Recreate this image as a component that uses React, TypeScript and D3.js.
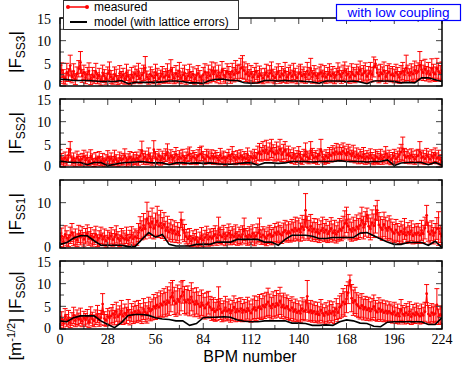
import React from 'react';
import * as d3 from 'd3';

// BPM 0..224, one measured value per BPM
const measSS3 = [
  2.8,3.5,2.1,1.6,3.0,2.4,4.5,2.0,3.2,1.5,2.7,3.8,5.2,2.2,3.0,
  1.8,2.6,3.3,1.4,2.5,2.0,3.1,1.7,2.4,1.2,2.9,2.2,1.6,2.7,3.4,
  2.0,1.5,2.6,2.2,1.3,2.8,1.9,2.4,1.6,3.0,2.1,1.4,2.5,1.8,2.7,
  2.2,3.2,1.7,2.4,2.9,4.0,2.0,1.5,2.6,2.2,1.8,3.0,2.4,1.6,2.1,
  2.7,1.9,2.3,3.1,2.0,3.6,2.5,1.7,2.8,2.1,3.3,1.8,2.4,2.9,1.6,
  2.2,3.0,1.9,2.6,1.5,2.3,2.8,2.0,1.4,2.5,3.1,1.8,2.9,2.2,3.4,
  2.6,3.3,2.1,2.9,1.8,3.5,2.4,2.0,3.1,2.7,1.9,3.2,2.5,3.6,2.8,
  3.0,3.9,4.2,3.4,2.6,3.1,2.2,2.8,1.9,2.5,3.2,2.0,2.7,2.3,1.7,
  2.4,3.0,2.1,2.8,3.4,2.2,1.8,2.6,3.1,2.0,2.7,2.3,3.3,1.9,2.5,
  2.9,2.1,3.2,2.4,1.8,2.7,3.0,2.2,2.6,1.9,3.3,2.5,3.8,2.0,2.8,
  2.3,1.7,2.6,3.0,2.1,2.8,1.9,2.5,3.1,2.2,2.7,1.8,2.4,3.2,2.6,
  2.0,2.9,3.4,2.3,2.7,1.9,3.1,2.5,2.2,3.0,2.6,3.5,2.4,2.8,3.2,
  2.1,2.7,3.3,2.5,4.2,4.9,2.9,2.2,3.0,2.6,3.4,2.0,2.8,3.1,2.4,
  2.7,2.2,3.0,2.5,1.9,2.8,3.3,2.4,4.0,2.9,2.3,3.1,2.6,3.5,2.8,
  3.2,4.6,3.6,2.9,3.8,2.7,3.3,2.5,3.9,3.0,2.6,3.9,3.2,2.8,3.4,
];
const errSS3 = [
  1.8,1.6,1.5,1.2,2.0,1.4,2.3,1.3,1.7,1.2,1.5,1.8,2.4,1.4,1.6,
  1.3,1.5,1.8,1.1,1.6,1.4,1.9,1.2,1.5,1.0,1.7,1.4,1.2,1.5,1.9,
  1.4,1.1,1.6,1.5,1.0,1.7,1.3,1.5,1.2,1.8,1.4,1.1,1.6,1.3,1.7,
  1.5,1.8,1.2,1.5,1.7,2.5,1.3,1.1,1.6,1.4,1.3,1.8,1.5,1.2,1.4,
  1.6,1.3,1.5,1.8,1.4,2.2,1.6,1.2,1.7,1.4,1.9,1.3,1.5,1.7,1.2,
  1.4,1.8,1.3,1.6,1.1,1.5,1.7,1.4,1.0,1.6,1.8,1.3,1.7,1.5,1.9,
  1.6,1.8,1.4,1.7,1.3,1.9,1.5,1.4,1.8,1.6,1.3,1.8,1.6,2.0,1.7,
  1.8,2.2,2.5,1.9,1.6,1.8,1.4,1.7,1.3,1.6,1.8,1.4,1.7,1.5,1.2,
  1.5,1.8,1.4,1.7,1.9,1.5,1.3,1.6,1.8,1.4,1.6,1.5,1.9,1.3,1.6,
  1.7,1.4,1.8,1.5,1.3,1.7,1.8,1.5,1.6,1.3,1.9,1.6,2.3,1.4,1.7,
  1.5,1.2,1.6,1.8,1.4,1.7,1.3,1.6,1.8,1.5,1.6,1.3,1.5,1.9,1.6,
  1.4,1.7,1.9,1.5,1.7,1.3,1.8,1.6,1.5,1.8,1.6,2.0,1.5,1.7,1.9,
  1.4,1.6,1.9,1.6,2.2,0.9,1.7,1.5,1.8,1.6,1.9,1.4,1.7,1.8,1.5,
  1.6,1.5,1.8,1.6,1.3,1.7,1.9,1.5,2.8,1.7,1.5,1.8,1.6,2.0,1.7,
  1.9,3.0,2.0,1.7,2.1,1.6,1.9,1.6,2.1,1.8,1.6,2.2,1.9,1.7,1.9,
];
const measSS2 = [
  2.4,1.8,1.2,2.0,1.5,2.6,3.8,1.4,1.9,1.1,2.2,1.6,1.3,1.8,2.3,
  1.5,2.0,1.2,2.4,1.7,1.0,1.9,1.4,2.1,1.3,1.8,1.1,1.6,2.2,1.4,
  1.9,1.3,2.3,1.6,1.1,2.0,1.5,1.8,2.5,1.2,1.7,2.1,1.4,1.9,1.6,
  2.0,1.5,2.4,3.6,1.8,2.2,1.6,2.7,1.9,1.4,3.8,2.1,1.7,2.5,1.5,
  2.2,1.8,2.6,3.3,1.9,2.4,1.6,2.1,2.8,1.7,2.3,1.9,2.5,1.5,2.0,
  2.6,2.9,1.8,2.3,2.0,1.6,2.4,2.8,3.0,2.1,1.7,2.5,2.2,1.9,2.4,
  1.8,2.3,2.0,1.5,2.6,1.9,2.2,1.4,2.0,2.5,1.7,2.9,2.1,1.6,2.3,
  1.9,2.4,1.6,2.1,1.8,2.7,1.5,2.2,1.9,2.5,2.0,3.0,3.4,2.8,3.6,
  3.1,3.8,2.9,3.5,4.1,3.2,2.8,3.6,3.0,3.9,2.7,3.3,3.7,2.6,3.0,
  2.4,2.0,2.7,1.8,2.3,2.9,2.1,1.7,2.5,3.4,2.2,1.9,3.6,2.6,2.0,
  2.3,1.8,2.6,3.8,2.2,1.7,2.4,2.0,2.8,2.5,3.1,2.7,3.4,2.9,3.2,
  2.8,3.5,3.0,2.6,3.3,2.9,2.4,3.1,2.2,2.7,1.9,2.5,2.1,2.8,1.8,
  2.3,1.9,2.6,2.0,1.6,2.4,2.1,1.8,2.5,1.7,2.2,2.9,1.9,2.3,1.6,
  2.0,2.5,1.8,2.2,2.7,3.3,4.0,2.6,2.1,2.4,1.9,2.6,2.2,1.7,2.3,
  2.5,3.4,2.0,2.3,1.8,2.6,2.2,1.7,2.4,2.0,2.7,1.9,2.3,1.6,1.2,
];
const errSS2 = [
  1.4,1.2,1.0,1.3,1.1,1.5,1.8,1.0,1.2,0.9,1.3,1.1,1.0,1.2,1.4,
  1.1,1.3,0.9,1.4,1.2,0.9,1.3,1.0,1.3,1.0,1.2,0.9,1.1,1.4,1.0,
  1.2,1.0,1.4,1.1,0.9,1.3,1.1,1.2,1.5,1.0,1.2,1.3,1.0,1.3,1.1,
  1.3,1.1,1.4,2.1,1.2,1.3,1.1,1.5,1.2,1.0,2.0,1.3,1.2,1.4,1.1,
  1.3,1.2,1.4,1.8,1.2,1.4,1.1,1.3,1.5,1.1,1.3,1.2,1.4,1.0,1.3,
  1.4,1.5,1.2,1.3,1.2,1.1,1.4,1.5,1.6,1.3,1.1,1.4,1.3,1.2,1.4,
  1.2,1.3,1.2,1.0,1.5,1.2,1.3,1.0,1.2,1.4,1.1,1.6,1.3,1.1,1.3,
  1.2,1.4,1.1,1.3,1.2,1.5,1.0,1.3,1.2,1.4,1.2,1.6,1.8,1.5,2.0,
  1.6,2.1,1.5,1.8,2.0,1.7,1.5,1.9,1.6,2.2,1.5,1.7,1.9,1.4,1.6,
  1.4,1.2,1.5,1.2,1.3,1.6,1.3,1.1,1.4,1.9,1.3,1.2,2.0,1.5,1.2,
  1.3,1.2,1.4,2.3,1.3,1.1,1.4,1.2,1.5,1.4,1.6,1.5,1.8,1.5,1.7,
  1.5,1.8,1.6,1.4,1.7,1.5,1.3,1.7,1.3,1.5,1.2,1.4,1.3,1.5,1.2,
  1.3,1.2,1.4,1.2,1.1,1.4,1.3,1.2,1.4,1.1,1.3,1.6,1.2,1.4,1.1,
  1.2,1.4,1.2,1.3,1.5,1.7,2.6,1.5,1.3,1.4,1.2,1.4,1.3,1.1,1.4,
  1.4,2.2,1.3,1.4,1.2,1.5,1.3,1.1,1.4,1.2,1.5,1.2,1.4,1.1,0.9,
];
const measSS1 = [
  1.8,2.6,1.4,3.0,2.2,1.6,2.8,3.4,2.0,2.5,1.7,3.1,2.3,2.9,1.9,
  2.6,3.2,2.1,2.7,1.8,2.4,3.0,1.6,2.2,2.8,1.9,2.5,1.5,2.3,2.0,
  2.7,1.8,2.4,3.0,2.1,1.6,2.6,2.2,1.9,2.8,1.7,2.3,2.9,2.0,2.5,
  2.2,3.4,4.5,3.9,5.0,4.2,6.5,5.4,4.6,5.8,4.3,5.1,6.0,4.8,5.5,
  4.4,5.2,3.8,4.6,3.5,4.1,3.2,3.9,3.0,3.6,2.8,6.2,4.0,3.3,2.5,
  2.0,2.6,1.5,2.2,1.8,2.4,1.3,2.0,2.7,1.7,2.3,2.9,1.9,2.5,2.1,
  2.6,3.0,2.2,4.2,2.8,2.4,3.1,2.0,2.7,3.3,2.3,2.9,2.5,3.2,2.1,
  2.8,2.4,3.0,4.1,2.6,2.2,2.9,2.5,3.2,2.0,2.7,3.3,4.0,2.4,2.9,
  2.5,2.1,2.8,3.1,2.4,2.7,3.4,2.9,3.6,3.1,2.8,3.5,3.9,3.2,3.7,
  3.3,4.0,3.6,4.4,3.8,4.2,3.5,4.7,4.0,8.3,4.5,3.9,4.8,3.6,4.2,
  3.5,4.1,3.2,3.8,4.4,3.4,4.0,3.1,3.7,4.3,3.3,3.9,3.0,3.6,4.2,
  3.8,4.5,5.4,6.2,4.8,4.1,3.6,4.4,3.9,4.7,4.2,5.0,6.1,4.5,5.3,
  7.3,4.8,4.2,5.6,4.9,6.3,8.3,5.1,4.5,4.0,5.2,4.4,3.8,4.6,4.1,
  3.6,3.2,4.0,3.4,2.9,3.7,3.1,4.2,2.8,3.5,3.0,3.8,2.7,3.3,2.9,
  3.4,2.8,3.9,3.1,4.4,7.2,3.6,3.0,3.8,2.7,3.4,4.3,4.3,3.1,2.6,
];
const errSS1 = [
  1.5,1.8,1.2,1.9,1.6,1.3,1.8,2.0,1.5,1.7,1.4,1.9,1.6,1.8,1.5,
  1.7,1.9,1.5,1.8,1.4,1.6,1.8,1.3,1.6,1.8,1.4,1.7,1.3,1.6,1.5,
  1.8,1.4,1.6,1.9,1.5,1.3,1.7,1.6,1.4,1.8,1.3,1.6,1.8,1.5,1.7,
  1.6,2.0,2.4,2.1,2.6,2.2,3.6,2.7,2.4,3.0,2.3,2.6,3.2,2.5,2.8,
  2.3,2.6,2.1,2.4,2.0,2.2,1.9,2.1,1.8,2.0,1.7,1.7,2.2,1.9,1.6,
  1.5,1.7,1.2,1.6,1.4,1.7,1.1,1.5,1.8,1.4,1.6,1.9,1.5,1.7,1.6,
  1.7,1.9,1.6,2.6,1.8,1.7,1.9,1.5,1.8,2.0,1.6,1.8,1.7,1.9,1.5,
  1.8,1.7,1.9,2.5,1.7,1.6,1.8,1.7,1.9,1.5,1.8,2.0,2.6,1.6,1.8,
  1.7,1.6,1.8,1.9,1.7,1.8,2.0,1.8,2.1,1.9,1.8,2.0,2.2,1.9,2.1,
  2.0,2.3,2.1,2.4,2.2,2.4,2.0,2.5,2.3,3.7,2.5,2.2,2.6,2.1,2.3,
  2.1,2.3,2.0,2.2,2.4,2.0,2.3,1.9,2.2,2.4,2.0,2.2,1.9,2.1,2.3,
  2.2,2.5,2.8,2.8,2.6,2.3,2.1,2.4,2.2,2.6,2.3,2.7,2.9,2.5,2.7,
  1.5,2.5,2.4,2.8,2.6,3.0,2.2,2.7,2.4,2.3,2.7,2.4,2.2,2.5,2.3,
  2.1,2.0,2.3,2.0,1.9,2.2,2.0,2.3,1.8,2.1,1.9,2.2,1.8,2.0,1.9,
  2.0,1.8,2.2,1.9,2.4,2.2,2.1,1.9,2.2,1.8,2.0,2.4,3.7,1.9,1.8,
];
const measSS0 = [
  1.6,2.3,1.2,2.8,1.9,2.5,1.4,2.2,3.0,1.8,2.6,2.1,2.9,1.7,2.4,
  2.0,2.7,1.5,3.1,2.2,1.8,2.6,3.3,2.0,2.5,5.5,2.3,1.9,2.8,2.4,
  2.9,3.4,2.5,3.8,2.7,3.2,4.0,2.8,3.5,3.0,4.2,2.6,3.6,3.1,3.9,
  3.3,4.1,3.6,3.0,4.4,3.7,3.2,4.6,3.9,4.3,5.0,4.5,5.3,4.8,5.6,
  5.2,6.0,5.4,6.3,5.8,7.0,8.0,6.2,5.6,6.6,6.0,7.2,8.2,6.4,5.9,
  6.5,5.7,7.1,6.0,5.4,6.2,5.5,4.9,5.8,5.2,4.6,5.4,5.8,4.8,4.2,
  4.5,3.8,4.2,6.0,4.4,3.6,4.0,4.7,3.9,4.3,3.5,4.1,4.8,3.7,4.4,
  3.9,4.5,3.6,4.2,3.8,4.6,4.0,3.5,4.3,4.8,4.1,4.7,5.0,4.4,5.2,
  4.8,5.4,6.0,5.1,4.6,5.5,4.9,5.7,5.2,6.2,4.8,5.3,4.6,5.0,4.4,
  4.1,4.7,3.8,4.3,3.6,4.0,3.4,4.5,3.9,4.2,7.2,3.7,4.1,3.5,3.9,
  3.3,3.8,3.1,4.2,3.5,2.9,3.7,3.2,4.0,3.4,3.9,3.0,4.4,3.6,4.8,
  5.2,6.0,5.5,6.6,8.0,10.7,6.8,5.8,6.3,5.4,5.0,4.6,5.2,4.3,4.8,
  4.2,4.6,3.9,4.4,5.0,4.1,3.7,4.5,3.8,4.2,3.6,4.0,3.4,3.9,3.5,
  3.2,3.8,3.0,3.5,2.8,4.2,3.3,2.9,3.6,3.1,3.9,2.7,3.4,3.0,3.7,
  3.2,2.8,3.5,3.0,3.8,7.8,3.3,2.9,3.6,3.1,3.4,5.3,2.7,3.2,2.9,
];
const errSS0 = [
  1.2,1.5,1.0,1.7,1.3,1.6,1.1,1.4,1.8,1.3,1.6,1.4,1.7,1.2,1.5,
  1.4,1.6,1.2,1.8,1.5,1.3,1.6,1.9,1.4,1.6,2.3,1.5,1.3,1.7,1.6,
  1.8,2.0,1.6,2.1,1.7,1.9,2.3,1.8,2.0,1.8,2.3,1.7,2.0,1.9,2.2,
  1.9,2.2,2.0,1.8,2.3,2.1,1.9,2.4,2.1,2.3,2.6,2.4,2.7,2.5,2.8,
  2.6,2.9,2.7,3.0,2.8,3.2,2.7,3.0,2.8,3.1,2.9,3.2,2.5,3.0,2.8,
  3.0,2.8,3.1,2.9,2.7,2.9,2.7,2.5,2.8,2.6,2.4,2.6,2.5,2.4,2.3,
  2.4,2.1,2.3,3.3,2.3,2.0,2.2,2.5,2.1,2.3,2.0,2.2,2.5,2.1,2.3,
  2.2,2.4,2.0,2.3,2.1,2.4,2.2,2.0,2.3,2.5,2.2,2.4,2.6,2.3,2.6,
  2.5,2.7,3.0,2.6,2.4,2.7,2.5,2.8,2.6,3.0,2.5,2.6,2.4,2.5,2.3,
  2.2,2.4,2.1,2.3,2.0,2.2,1.9,2.4,2.1,2.2,3.5,2.0,2.2,2.0,2.1,
  1.9,2.1,1.8,2.3,2.0,1.8,2.1,1.9,2.2,2.0,2.1,1.8,2.3,2.0,2.5,
  2.6,2.9,2.7,3.0,2.4,1.2,3.0,2.8,2.9,2.6,2.5,2.4,2.6,2.3,2.4,
  2.3,2.4,2.1,2.3,2.5,2.2,2.0,2.4,2.1,2.2,2.0,2.2,1.9,2.1,2.0,
  1.9,2.1,1.8,2.0,1.7,2.3,1.9,1.8,2.0,1.9,2.1,1.7,2.0,1.8,2.0,
  1.9,1.7,2.0,1.8,2.1,2.0,1.9,1.8,2.0,1.8,1.9,3.6,1.7,1.9,1.8,
];

// model values at every 4th BPM (0, 4, ..., 224)
const modelSS3 = [1.5,1.4,1.2,1.2,1.2,1.1,1.0,1.0,1.0,1.2,0.5,0.8,0.8,0.8,0.8,0.9,1.1,1.1,1.0,0.7,0.7,0.6,1.2,1.5,1.5,1.2,1.2,0.7,0.6,0.7,1.2,1.2,1.1,1.2,1.1,1.1,1.0,0.9,0.6,1.1,1.1,1.1,1.0,1.1,0.9,0.5,1.1,1.1,1.1,1.0,0.7,0.8,0.7,1.8,1.8,1.4,1.0];
const modelSS2 = [1.3,1.1,1.0,1.0,0.5,1.0,1.0,0.3,0.6,0.9,1.0,1.1,1.2,1.0,0.9,0.9,0.5,0.9,0.9,0.8,0.9,0.8,0.9,0.7,0.6,0.6,0.7,0.9,0.9,0.4,0.9,0.9,0.8,0.9,1.2,1.2,1.2,1.1,1.2,1.2,1.2,1.4,1.2,1.2,1.2,1.1,1.2,1.2,1.55,0.3,0.9,1.0,1.0,1.0,0.5,1.0,0.4];
const modelSS1 = [0.8,1.2,2.2,2.7,2.7,1.6,0.6,0.6,0.6,0.6,0.3,0.3,1.9,3.4,2.4,3.0,0.8,0.45,0.45,0.45,0.8,0.8,0.8,1.3,1.3,1.3,1.9,1.9,1.9,1.9,1.3,1.3,0.6,1.9,2.8,2.8,2.8,2.6,2.1,2.1,2.3,2.3,2.3,2.3,3.3,3.4,2.7,2.0,1.3,0.8,0.8,1.2,1.2,1.2,0.6,1.5,0.1];
const modelSS0 = [1.8,1.6,2.5,2.9,2.9,2.9,1.8,1.0,0.3,1.4,3.0,3.2,3.2,3.0,2.5,2.2,2.1,1.8,1.8,0.8,1.2,2.5,2.6,2.6,2.7,2.6,2.0,1.7,1.6,1.6,1.8,1.8,1.8,1.8,1.3,1.3,1.2,0.8,0.8,0.9,0.8,1.6,2.0,1.8,1.3,1.2,0.6,0.5,1.5,1.6,1.6,1.6,1.6,1.6,1.0,1.0,2.5];

const xTicks = [0, 28, 56, 84, 112, 140, 168, 196, 224];

const panels = [
  { id: 'ss3', meas: measSS3, err: errSS3, model: modelSS3, sub: 'SS3', labels: [0, 5, 10, 15], minor: [2.5, 7.5, 12.5] },
  { id: 'ss2', meas: measSS2, err: errSS2, model: modelSS2, sub: 'SS2', labels: [0, 5, 10, 15], minor: [2.5, 7.5, 12.5] },
  { id: 'ss1', meas: measSS1, err: errSS1, model: modelSS1, sub: 'SS1', labels: [0, 10], minor: [5, 15] },
  { id: 'ss0', meas: measSS0, err: errSS0, model: modelSS0, sub: 'SS0', labels: [0, 5, 10, 15], minor: [2.5, 7.5, 12.5] },
];

const left = 60, right = 442;
const tops = [18, 99, 180, 261];
const ph = 68;

const serif = '"Liberation Serif", Tinos, "DejaVu Serif", "Times New Roman", serif';
const sans = '"Liberation Sans", Arial, Helvetica, sans-serif';

const x = d3.scaleLinear().domain([0, 224]).range([left, right]);

function Panel({ p, top, last }: any) {
  const y = d3.scaleLinear().domain([0, 15]).range([top + ph, top]);
  const line = d3.line<number>().x((d, i) => x(i)).y(d => y(d));
  const mline = d3.line<number>().x((d, i) => x(i * 4)).y(d => y(d));
  const minorX = d3.range(14, 224, 28);
  const cap = 2.5;
  return (
    <g>
      <defs>
        <clipPath id={'clip-' + p.id}>
          <rect x={left} y={top} width={right - left} height={ph + 2} />
        </clipPath>
      </defs>
      <g clipPath={`url(#clip-${p.id})`}>
        <g stroke="#ff0000" strokeWidth={1} fill="none">
          {p.meas.map((v: number, i: number) => {
            const cx = x(i);
            const hi = y(v + p.err[i]);
            const lo = y(Math.max(v - p.err[i], -0.3));
            return (
              <g key={i}>
                <line x1={cx} x2={cx} y1={hi} y2={lo} />
                <line x1={cx - cap} x2={cx + cap} y1={hi} y2={hi} />
                <line x1={cx - cap} x2={cx + cap} y1={lo} y2={lo} />
              </g>
            );
          })}
          <path d={line(p.meas) || ''} />
        </g>
        {p.meas.map((v: number, i: number) => (
          <circle key={i} cx={x(i)} cy={y(v)} r={1.4} fill="#ff0000" />
        ))}
        <path d={mline(p.model) || ''} fill="none" stroke="#000" strokeWidth={1.6} />
      </g>
      <g stroke="#444" strokeWidth={1}>
        {xTicks.map(t => (
          <g key={'mx' + t}>
            <line x1={x(t)} x2={x(t)} y1={top} y2={top + 6} />
            <line x1={x(t)} x2={x(t)} y1={top + ph} y2={top + ph - 6} />
          </g>
        ))}
        {minorX.map(t => (
          <g key={'nx' + t}>
            <line x1={x(t)} x2={x(t)} y1={top} y2={top + 4} />
            <line x1={x(t)} x2={x(t)} y1={top + ph} y2={top + ph - 4} />
          </g>
        ))}
        {p.labels.map((t: number) => (
          <g key={'my' + t}>
            <line x1={left} x2={left + 6} y1={y(t)} y2={y(t)} />
            <line x1={right} x2={right - 6} y1={y(t)} y2={y(t)} />
          </g>
        ))}
        {p.minor.map((t: number) => (
          <g key={'ny' + t}>
            <line x1={left} x2={left + 4} y1={y(t)} y2={y(t)} />
            <line x1={right} x2={right - 4} y1={y(t)} y2={y(t)} />
          </g>
        ))}
      </g>
      <rect x={left} y={top} width={right - left} height={ph} fill="none" stroke="#000" strokeWidth={1.5} />
      {p.labels.map((t: number) => (
        <text key={'ly' + t} x={51} y={y(t) + (t === 0 ? 3.5 : 5.5)} textAnchor="end" style={{ fontFamily: serif, fontSize: 14 }}>{t}</text>
      ))}
      {last && xTicks.map(t => (
        <text key={'lx' + t} x={x(t)} y={top + ph + 15} textAnchor="middle" style={{ fontFamily: serif, fontSize: 14 }}>{t}</text>
      ))}
      <text transform={`translate(21,${last ? 316 : top + ph / 2}) rotate(-90)`} textAnchor="middle" style={{ fontFamily: sans, fontSize: 17 }}>
        {last && <tspan>[m</tspan>}
        {last && <tspan fontSize={11} dy={-6}>-1/2</tspan>}
        {last && <tspan dy={6}>]  </tspan>}
        <tspan>|F</tspan>
        <tspan fontSize={12} dy={4}>{p.sub}</tspan>
        <tspan dy={-4}>|</tspan>
      </text>
    </g>
  );
}

export default function App() {
  return (
    <svg width={463} height={365} style={{ position: 'absolute', left: 0, top: 0, background: '#fff' }}>
      {panels.map((p, i) => (
        <Panel key={p.id} p={p} top={tops[i]} last={i === panels.length - 1} />
      ))}
      <text x={250} y={361.5} textAnchor="middle" style={{ fontFamily: sans, fontSize: 16 }}>BPM number</text>
      <rect x={63.5} y={0.5} width={175} height={29} fill="#fff" stroke="#333" strokeWidth={1} />
      <line x1={67} x2={88} y1={7} y2={7} stroke="#ff0000" strokeWidth={1.5} />
      <circle cx={68} cy={7} r={2} fill="#ff0000" />
      <circle cx={87} cy={7} r={2} fill="#ff0000" />
      <text x={94} y={11} style={{ fontFamily: sans, fontSize: 12 }}>measured</text>
      <line x1={70} x2={87} y1={22} y2={22} stroke="#000" strokeWidth={2} />
      <text x={94} y={26} style={{ fontFamily: sans, fontSize: 12 }}>model (with lattice errors)</text>
      <rect x={336.5} y={4.5} width={124} height={16} fill="#fff" stroke="#0000ff" strokeWidth={1.2} />
      <text x={398.5} y={17} textAnchor="middle" style={{ fontFamily: sans, fontSize: 13.5 }} fill="#0000ff">with low coupling</text>
    </svg>
  );
}
